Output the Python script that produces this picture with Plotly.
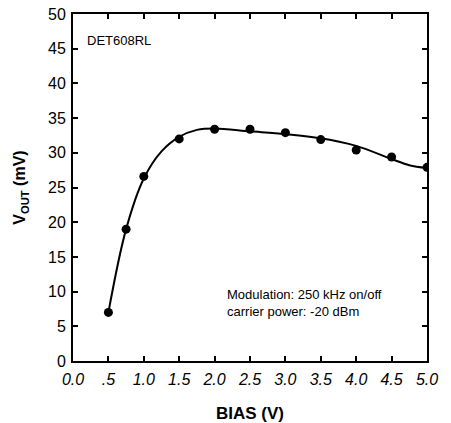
import plotly.graph_objects as go

# measured points
bias = [0.5, 0.75, 1.0, 1.5, 2.0, 2.5, 3.0, 3.5, 4.0, 4.5, 5.0]
vout = [7.0, 19.0, 26.6, 32.0, 33.4, 33.4, 32.9, 31.9, 30.4, 29.4, 27.9]

# fitted curve
curve_x = [0.5, 0.75, 1.0, 1.25, 1.5, 1.75, 2.0, 2.5, 3.0, 3.5, 4.0, 4.5, 4.75, 5.0]
curve_y = [7.0, 19.0, 26.3, 30.2, 32.3, 33.3, 33.5, 33.1, 32.7, 32.1, 31.0, 29.1, 28.2, 27.8]

x_ticks = [0.0, 0.5, 1.0, 1.5, 2.0, 2.5, 3.0, 3.5, 4.0, 4.5, 5.0]
x_ticktext = ["0.0", ".5", "1.0", "1.5", "2.0", "2.5", "3.0", "3.5", "4.0", "4.5", "5.0"]
y_ticks = [0, 5, 10, 15, 20, 25, 30, 35, 40, 45, 50]

FONT = "Liberation Sans, Arial, sans-serif"

fig = go.Figure()
fig.add_trace(go.Scatter(x=curve_x, y=curve_y, mode="lines",
                         line=dict(color="black", width=2, shape="spline", smoothing=1.0),
                         hoverinfo="skip", showlegend=False))
fig.add_trace(go.Scatter(x=bias, y=vout, mode="markers",
                         marker=dict(color="black", size=9),
                         showlegend=False))

fig.update_layout(
    width=451, height=423,
    margin=dict(l=73, r=24, t=14, b=62),
    paper_bgcolor="white", plot_bgcolor="white",
    font=dict(family=FONT, color="black", size=14),
    xaxis=dict(range=[0, 5.0], tickvals=x_ticks, ticktext=x_ticktext,
               ticks="inside", ticklen=5, tickcolor="black", tickwidth=1.5,
               showline=True, linecolor="black", linewidth=2, mirror="ticks",
               showgrid=False, zeroline=False, automargin=False,
               ticklabelstandoff=3,
               tickfont=dict(family=FONT, size=16, style="italic"),
               title=dict(text="<b>BIAS (V)</b>", font=dict(family=FONT, size=17), standoff=20)),
    yaxis=dict(range=[0, 50], tickvals=y_ticks,
               ticks="inside", ticklen=5, tickcolor="black", tickwidth=1.5,
               showline=True, linecolor="black", linewidth=2, mirror="ticks",
               showgrid=False, zeroline=False, automargin=False,
               ticklabelstandoff=2,
               tickfont=dict(family=FONT, size=16),
               title=dict(text="<b>V<sub>OUT</sub> (mV)</b>", font=dict(family=FONT, size=16), standoff=18)),
    annotations=[
        dict(text="DET608RL", xref="paper", yref="paper", x=0.035, y=0.925,
             xanchor="left", yanchor="middle", showarrow=False,
             font=dict(family=FONT, size=13)),
        dict(text="Modulation: 250 kHz on/off<br>carrier power: -20 dBm", xref="x", yref="y",
             x=2.14, y=8.3, xanchor="left", yanchor="middle", align="left", showarrow=False,
             font=dict(family=FONT, size=13)),
    ],
)

fig.write_html("out.html", config={"displayModeBar": False},
               post_script="document.body.style.margin='0';")
